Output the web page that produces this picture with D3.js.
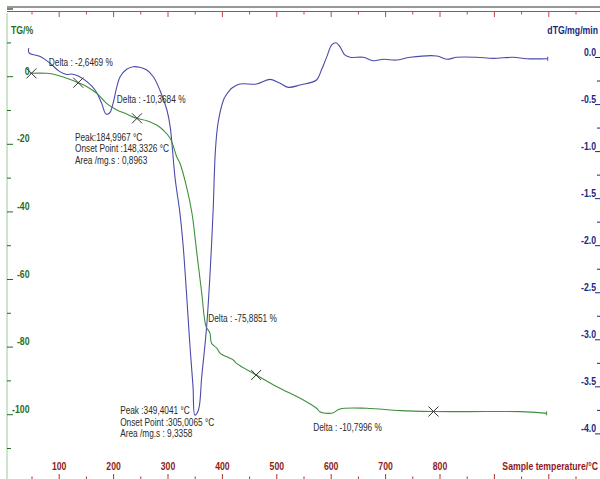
<!DOCTYPE html>
<html><head><meta charset="utf-8">
<script src="https://cdn.jsdelivr.net/npm/d3@7"></script>
<style>
html,body{margin:0;padding:0;background:#fff;}
svg{display:block;}
text{font-family:"Liberation Sans",Arial,sans-serif;}
</style></head>
<body>
<script>
// ---- data ----
const tgTemp = [46,77,95,114,135,151,169,187,206,224,242,261,279,291,304,316,322,334,344,353,362,370,377,380,390,396,420,426,462,494,512,543,573,579,595,604,616,665,727,788,849,947,996];
const tgValue = [1.0,1.0,0.5,-0.47,-1.78,-2.96,-4.91,-7.87,-9.85,-11.04,-12.31,-13.02,-14.29,-15.77,-18.22,-23.67,-25.62,-32.54,-40.33,-52.16,-64.0,-73.96,-75.8,-78.88,-80.36,-81.83,-83.8,-84.8,-88.25,-91.2,-92.69,-95.15,-98.1,-99.1,-99.6,-99.4,-98.3,-98.1,-98.8,-99.05,-99.1,-99.1,-99.6];
const dtgTemp = [44,44.6,65,83,101,114,123,135,151,166,178,186,193,199,206,212,224,236,248,261,273,285,298,304,313,322,328,334,340,346,349.4,356,362,371,377,383,387,392,402,405,414,417,432,463,488,506,521,543,573,582,592,601,609,616,625,635,659,677,696,720,745,794,812,831,867,898,935,959,998];
const dtgValue = [0.10,0.05,0.01,-0.06,-0.15,-0.18,-0.175,-0.197,-0.257,-0.345,-0.487,-0.60,-0.587,-0.487,-0.31,-0.204,-0.125,-0.098,-0.104,-0.133,-0.204,-0.345,-0.558,-0.735,-1.28,-1.656,-2.011,-2.503,-3.034,-3.498,-3.80,-3.746,-3.392,-2.861,-2.329,-1.621,-1.0,-0.696,-0.452,-0.417,-0.345,-0.327,-0.282,-0.282,-0.232,-0.274,-0.317,-0.292,-0.239,-0.133,0.009,0.133,0.157,0.115,0.027,0.002,0.002,-0.034,-0.019,-0.027,0.002,0.016,-0.019,0.002,0.002,-0.009,0.002,-0.013,-0.013];
const markerTemp = [49,135,243,462,788];
const markerTG = [1.0,-1.78,-12.31,-88.25,-99.05];
const xTickLabels = [100,200,300,400,500,600,700,800];
const tgTickLabels = [0,-20,-40,-60,-80,-100];
const dtgTickLabels = ["0.0","-0.5","-1.0","-1.5","-2.0","-2.5","-3.0","-3.5","-4.0"];
const annotations = [
  {t:81, v:3.3, lines:["Delta : -2,6469  %"]},
  {t:206, v:-7.9, lines:["Delta : -10,3684  %"]},
  {t:129, v:-19.0, lines:["Peak:184,9967 °C","Onset Point :148,3326 °C","Area /mg.s : 0,8963"]},
  {t:212, v:-99.9, lines:["Peak :349,4041 °C","Onset Point :305,0065 °C","Area /mg.s : 9,3358"]},
  {t:374, v:-72.6, lines:["Delta : -75,8851 %"]},
  {t:567, v:-104.8, lines:["Delta : -10,7996 %"]}
];

// ---- layout ----
const W = 600, H = 479, SX = 0.79;
const svg = d3.select("body").append("svg").attr("width", W).attr("height", H);
const x = d3.scaleLinear().domain([0, 1000]).range([4.8, 548.8]);
const yTG = d3.scaleLinear().domain([0, -100]).range([76.7, 414.7]);
const yDTG = d3.scaleLinear().domain([0, -4]).range([57.5, 433.9]);

const green = "#3f8f3f", blue = "#4b4bab";
const darkGreen = "#1f6e1f", navy = "#1c2680", darkRed = "#8e1b1b";

function txt(px, py, s, o) {
  const t = svg.append("text")
    .attr("transform", `translate(${px},${py}) scale(${SX},1)`)
    .attr("x", 0).attr("y", 0)
    .attr("text-anchor", o.anchor || "start")
    .attr("font-size", o.size || 11)
    .attr("font-weight", o.weight || "normal")
    .attr("fill", o.fill || "#222");
  if (Array.isArray(s)) {
    s.forEach((l, j) => t.append("tspan").attr("x", 0).attr("dy", j === 0 ? 0 : (o.lh || 11.3)).text(l));
  } else t.text(s);
  return t;
}

// top frame lines
svg.append("line").attr("x1", 7).attr("x2", 600).attr("y1", 7).attr("y2", 7).attr("stroke", "#333").attr("stroke-width", 1.2);
svg.append("line").attr("x1", 7).attr("x2", 600).attr("y1", 11.5).attr("y2", 11.5).attr("stroke", "#b84848").attr("stroke-width", 1);
svg.append("line").attr("x1", 7).attr("x2", 13).attr("y1", 9).attr("y2", 9).attr("stroke", "#3a6b3a").attr("stroke-width", 1.5);
const topTicks = d3.range(50, 1101, 50);
svg.append("g").selectAll("line").data(topTicks).join("line")
  .attr("x1", d => x(d)).attr("x2", d => x(d))
  .attr("y1", 11.5).attr("y2", d => d % 100 === 0 ? 17 : 14.5)
  .attr("stroke", "#b84848").attr("stroke-width", 1);

// bottom temperature ticks
svg.append("g").selectAll("line").data(topTicks).join("line")
  .attr("x1", d => x(d)).attr("x2", d => x(d))
  .attr("y1", d => d % 100 === 0 ? 474 : 476.5).attr("y2", 479)
  .attr("stroke", "#a33").attr("stroke-width", 1);
xTickLabels.forEach(d => txt(x(d), 470, d, {anchor: "middle", weight: "bold", fill: darkRed}));
txt(598, 470, "Sample temperature/°C", {anchor: "end", weight: "bold", fill: darkRed});

// left TG axis
svg.append("line").attr("x1", 7).attr("x2", 7).attr("y1", 13).attr("y2", 479).attr("stroke", "#9cc89c").attr("stroke-width", 1);
const tgTicks = d3.range(10, -111, -10);
svg.append("g").selectAll("line").data(tgTicks).join("line")
  .attr("x1", 7).attr("x2", d => d % 20 === 0 ? 13 : 11)
  .attr("y1", d => yTG(d)).attr("y2", d => yTG(d))
  .attr("stroke", darkGreen).attr("stroke-width", 1);
tgTickLabels.forEach(d => txt(29.5, yTG(d) - 2, d, {anchor: "end", weight: "bold", fill: darkGreen}));
txt(11, 34, "TG/%", {weight: "bold", fill: darkGreen});

// right DTG axis
const dtgTicks = d3.range(0, -4.01, -0.25);
svg.append("g").selectAll("line").data(dtgTicks).join("line")
  .attr("x1", d => Math.abs(d * 2 - Math.round(d * 2)) < 1e-6 ? 595 : 597).attr("x2", 600)
  .attr("y1", d => yDTG(d)).attr("y2", d => yDTG(d))
  .attr("stroke", navy).attr("stroke-width", 1);
dtgTickLabels.forEach(d => txt(596, yDTG(+d) - 1.5, d, {anchor: "end", weight: "bold", fill: navy}));
txt(598, 34, "dTG/mg/min", {anchor: "end", weight: "bold", fill: navy});

// curves
const tgData = tgTemp.map((t, i) => [t, tgValue[i]]);
const dtgData = dtgTemp.map((t, i) => [t, dtgValue[i]]);
const lineTG = d3.line().x(d => x(d[0])).y(d => yTG(d[1])).curve(d3.curveCatmullRom.alpha(0.5));
const lineDTG = d3.line().x(d => x(d[0])).y(d => yDTG(d[1])).curve(d3.curveCatmullRom.alpha(0.5));
svg.append("path").datum(dtgData).attr("d", lineDTG).attr("fill", "none").attr("stroke", blue).attr("stroke-width", 1.1);
svg.append("path").datum(tgData).attr("d", lineTG).attr("fill", "none").attr("stroke", green).attr("stroke-width", 1.1);

// end ticks
const lastTG = tgData[tgData.length - 1], lastD = dtgData[dtgData.length - 1];
svg.append("line").attr("x1", x(lastTG[0])).attr("x2", x(lastTG[0])).attr("y1", yTG(lastTG[1]) - 2).attr("y2", yTG(lastTG[1]) + 2).attr("stroke", green);
svg.append("line").attr("x1", x(lastD[0])).attr("x2", x(lastD[0])).attr("y1", yDTG(lastD[1]) - 2).attr("y2", yDTG(lastD[1]) + 2).attr("stroke", blue);

// X markers
const mk = svg.append("g");
markerTemp.forEach((t, i) => {
  const cx = x(t), cy = yTG(markerTG[i]), s = 5;
  mk.append("path").attr("d", `M${cx - s},${cy - s}L${cx + s},${cy + s}M${cx - s},${cy + s}L${cx + s},${cy - s}`)
    .attr("stroke", "#333").attr("stroke-width", 1).attr("fill", "none");
});

// annotations
annotations.forEach(a => txt(x(a.t), yTG(a.v), a.lines, {size: 10.5, fill: "#2a2a2a"}));
</script>
</body></html>
